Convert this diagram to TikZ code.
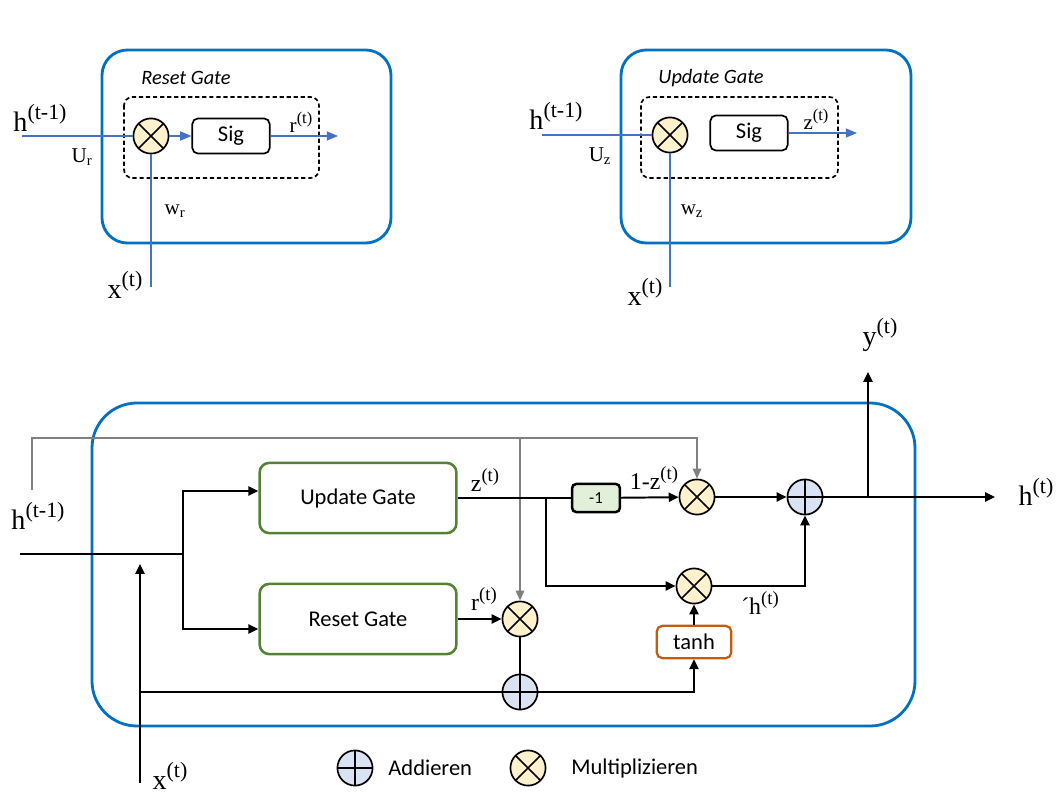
\documentclass[tikz,border=0pt]{standalone}
\usepackage{fontspec}
\setmainfont{Carlito}
\newfontfamily\lblfont{Liberation Serif}
\usetikzlibrary{positioning,arrows.meta,calc}
\definecolor{boxblue}{RGB}{0,112,192}
\definecolor{lineblue}{RGB}{68,114,196}
\definecolor{gategreen}{RGB}{84,130,53}
\definecolor{tanhorange}{RGB}{197,90,17}
\definecolor{multfill}{RGB}{255,242,204}
\definecolor{addfill}{RGB}{218,227,243}
\definecolor{onefill}{RGB}{226,240,217}
\definecolor{greyline}{RGB}{128,128,128}
\makeatletter
\newcommand{\supx}[1]{\raisebox{0.42em}{\fontsize{\strip@pt\dimexpr0.78\dimexpr\f@size pt\relax\relax}{0}\selectfont #1}}
\makeatother
\tikzstyle{mult}=[circle,draw,line width=1.2pt,fill=multfill,minimum size=25pt,inner sep=0pt,
  path picture={\draw[line width=1.2pt] (path picture bounding box.north west) -- (path picture bounding box.south east)
  (path picture bounding box.north east) -- (path picture bounding box.south west);}]
\tikzstyle{addop}=[circle,draw,line width=1.2pt,fill=addfill,minimum size=25pt,inner sep=0pt,
  path picture={\draw[line width=1.2pt] (path picture bounding box.north) -- (path picture bounding box.south)
  (path picture bounding box.east) -- (path picture bounding box.west);}]
\tikzstyle{gatebox}=[draw=gategreen,line width=1.8pt,rounded corners=7pt,minimum width=140pt,minimum height=50pt,font=\fontsize{16}{16}\selectfont]
\tikzstyle{sigbox}=[draw,line width=1.2pt,rounded corners=4pt,minimum width=55pt,minimum height=25pt,font=\fontsize{16}{16}\selectfont]
\tikzstyle{onebox}=[draw,fill=onefill,line width=1.8pt,rounded corners=3pt,minimum width=34pt,minimum height=20pt,font=\fontsize{12}{12}\selectfont]
\tikzstyle{tanhbox}=[draw=tanhorange,line width=1.6pt,rounded corners=4pt,minimum width=53pt,minimum height=23pt,font=\fontsize{16}{16}\selectfont]
\tikzstyle{outer}=[draw=boxblue,line width=2pt]
\tikzstyle{lbl}=[font=\lblfont\fontsize{15}{15}\selectfont,inner sep=1pt]
\tikzstyle{midlbl}=[font=\lblfont\fontsize{17}{17}\selectfont,inner sep=1pt]
\tikzstyle{biglbl}=[font=\lblfont\fontsize{20}{20}\selectfont,inner sep=1pt]
\tikzstyle{title}=[font=\itshape\fontsize{14.5}{14.5}\selectfont]
\tikzstyle{thinflow}=[draw=lineblue,line width=0.8pt]
\tikzstyle{line}=[draw,line width=1.4pt]
\tikzstyle{flow}=[draw,line width=1.4pt,-{Triangle[length=7pt,width=6.5pt]}]
\tikzstyle{greyflow}=[draw=greyline,line width=1.1pt,-{Triangle[length=7pt,width=6pt]}]
\tikzstyle{legtext}=[font=\fontsize{16}{16}\selectfont,inner sep=0pt,anchor=west]

\begin{document}
\begin{tikzpicture}[x=0.025cm,y=-0.025cm]
  \useasboundingbox (0,0) rectangle (1060,801);

  % reset gate panel
  \draw[outer, rounded corners=18pt] (102,50) rectangle (391,243);
  \draw[dashed, dash pattern=on 3pt off 2pt, line width=1.2pt, rounded corners=6pt] (124,97) rectangle (319,178);
  \node[title] (rtitle) at (186,78) {Reset Gate};
  \node[mult] (mr) at (151,136) {};
  \node[sigbox] (sigr) at (231,136) {Sig};
  \coordinate (hrin) at (22,136);
  \coordinate (rout) at (338,136);
  \coordinate (xrin) at (151,287);
  \draw[thinflow] (hrin) -- (mr);
  \draw[thinflow, -{Triangle[length=8pt,width=6.5pt]}] (mr) -- (sigr);
  \draw[thinflow, -{Triangle[length=8pt,width=6.5pt]}] (sigr) -- (rout);
  \draw[thinflow] (xrin) -- (mr);
  \node[biglbl] (hrlbl) at (40,118) {h\supx{(t-1)}};
  \node[lbl] (urlbl) at (82,157) {U\textsubscript{r}};
  \node[lbl] (rrlbl) at (301,122) {r\supx{(t)}};
  \node[lbl] (wrlbl) at (175,211) {w\textsubscript{r}};
  \node[biglbl] (xrlbl) at (125,285) {x\supx{(t)}};

  % update gate panel
  \draw[outer, rounded corners=18pt] (621,50) rectangle (911,243);
  \draw[dashed, dash pattern=on 3pt off 2pt, line width=1.2pt, rounded corners=6pt] (641,97) rectangle (838,178);
  \node[title] (ztitle) at (711,78) {Update Gate};
  \node[mult] (mz) at (670,135) {};
  \node[sigbox] (sigz) at (749,133) {Sig};
  \coordinate (hzin) at (542,135);
  \coordinate (zout) at (857,133);
  \coordinate (xzin) at (670,287);
  \draw[thinflow] (hzin) -- (mz);
  \draw[thinflow, -{Triangle[length=8pt,width=6.5pt]}] (sigz) -- (zout);
  \draw[thinflow] (xzin) -- (mz);
  \node[biglbl] (hzlbl) at (556,116) {h\supx{(t-1)}};
  \node[lbl] (uzlbl) at (600,156) {U\textsubscript{z}};
  \node[lbl] (zzlbl) at (816,119) {z\supx{(t)}};
  \node[lbl] (wzlbl) at (692,211) {w\textsubscript{z}};
  \node[biglbl] (xzlbl) at (645,292) {x\supx{(t)}};

  % GRU cell
  \draw[outer, rounded corners=32pt] (92,403) rectangle (915,726);
  \node[gatebox] (upd) at (358,498) {Update Gate};
  \node[gatebox] (rst) at (358,619) {Reset Gate};
  \node[onebox] (neg) at (596,498) {-1};
  \node[mult] (m1) at (697,497) {};
  \node[addop] (a1) at (805,497) {};
  \node[mult] (m2) at (694,586) {};
  \node[tanhbox] (th) at (694,642) {tanh};
  \node[mult] (m3) at (520,619) {};
  \node[addop] (a2) at (520,692) {};

  \coordinate (hin) at (20,554);
  \coordinate (split) at (183,554);
  \coordinate (xin) at (140,783);
  \coordinate (xup) at (140,564);
  \coordinate (zsplit) at (546,498);
  \coordinate (hg) at (32,490);
  \coordinate (gtop) at (32,438);
  \coordinate (ysplit) at (868,497);
  \coordinate (yout) at (868,372);
  \coordinate (hout) at (995,497);

  \draw[greyflow] (hg) -- (gtop) -| (m1);
  \draw[greyflow] (m3 |- gtop) -- (m3);
  \draw[line] (hin) -- (split);
  \draw[flow] (split) |- ($(upd.west)+(0,-7)$);
  \draw[flow] (split) |- ($(rst.west)+(0,10)$);
  \draw[flow] (xin) -- (xup);
  \draw[line] (xin |- a2) -- (a2);
  \draw[line] (upd.east) -- (neg.west);
  \draw[flow] (zsplit) |- (m2);
  \draw[flow] (neg) -- (m1);
  \draw[flow] (m1) -- (a1);
  \draw[flow] (m2) -| (a1);
  \draw[flow] (th) -- (m2);
  \draw[flow] (a2) -| (th);
  \draw[line] (m3) -- (a2);
  \draw[flow] (rst.east) -- (m3);
  \draw[flow] (a1) -- (hout);
  \draw[flow] (ysplit) -- (yout);

  \foreach \x/\y/\name/\txt in {485/480/zlbl/z\supx{(t)}, 654/478/onezlbl/1-z\supx{(t)},
      484/599/rlbl/r\supx{(t)}, 760/603/hclbl/´h\supx{(t)}}
    \node[midlbl] (\name) at (\x,\y) {\txt};
  \foreach \x/\y/\name/\txt in {38/516/hinlbl/h\supx{(t-1)}, 170/776/xinlbl/x\supx{(t)},
      880/335/ylbl/y\supx{(t)}, 1036/492/houtlbl/h\supx{(t)}}
    \node[biglbl] (\name) at (\x,\y) {\txt};

  % legend
  \node[addop] (legadd) at (355,768) {};
  \node[legtext, right=10.5pt of legadd] (legaddtxt) {Addieren};
  \node[mult] (legmult) at (528,768) {};
  \node[legtext, right=17.5pt of legmult] (legmulttxt) {Multiplizieren};
\end{tikzpicture}
\end{document}
